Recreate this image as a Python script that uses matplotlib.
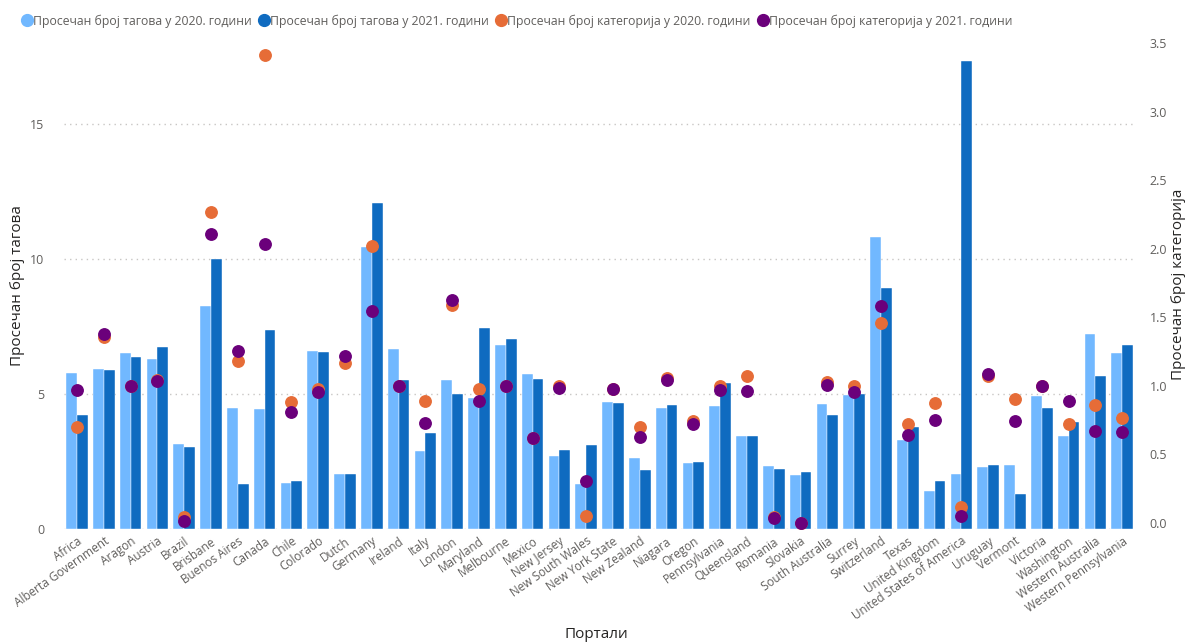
import numpy as np
import matplotlib
matplotlib.use('Agg')
import matplotlib.pyplot as plt
from matplotlib.lines import Line2D

plt.rcParams['font.family'] = ['Open Sans', 'DejaVu Sans']

# === DATA ===
portals = ["Africa", "Alberta Government", "Aragon", "Austria", "Brazil", "Brisbane",
           "Buenos Aires", "Canada", "Chile", "Colorado", "Dutch", "Germany", "Ireland",
           "Italy", "London", "Maryland", "Melbourne", "Mexico", "New Jersey",
           "New South Wales", "New York State", "New Zealand", "Niagara", "Oregon",
           "Pennsylvania", "Queensland", "Romania", "Slovakia", "South Australia",
           "Surrey", "Switzerland", "Texas", "United Kingdom", "United States of America",
           "Uruguay", "Vermont", "Victoria", "Washington", "Western Australia",
           "Western Pennsylvania"]

tags_2020 = [5.79, 5.94, 6.53, 6.28, 3.14, 8.26, 4.49, 4.43, 1.72, 6.59, 2.02, 10.46, 6.68,
             2.90, 5.51, 4.85, 6.80, 5.73, 2.70, 1.67, 4.70, 2.62, 4.49, 2.44, 4.54, 3.44,
             2.35, 2.00, 4.64, 4.95, 10.83, 3.31, 1.41, 2.05, 2.28, 2.36, 4.93, 3.46,
             7.22, 6.53]
tags_2021 = [4.21, 5.89, 6.38, 6.75, 3.02, 9.99, 1.65, 7.36, 1.78, 6.56, 2.02, 12.06, 5.52,
             3.54, 4.99, 7.43, 7.05, 5.54, 2.94, 3.12, 4.65, 2.19, 4.61, 2.49, 5.42, 3.44,
             2.24, 2.12, 4.24, 5.01, 8.91, 3.78, 1.77, 17.33, 2.37, 1.31, 4.49, 3.95,
             5.67, 6.81]
cats_2020 = [0.70, 1.352, 1.00, 1.04, 0.04, 2.27, 1.177, 3.41, 0.88, 0.975, 1.163, 2.016,
             1.00, 0.89, 1.586, 0.973, 1.00, 0.615, 0.997, 0.049, 0.973, 0.696, 1.058,
             0.744, 0.997, 1.072, 0.044, 0.00, 1.024, 1.00, 1.459, 0.72, 0.875, 0.112,
             1.07, 0.902, 1.00, 0.72, 0.856, 0.764]
cats_2021 = [0.968, 1.376, 1.00, 1.034, 0.015, 2.11, 1.255, 2.03, 0.81, 0.951, 1.218, 1.547,
             1.00, 0.73, 1.624, 0.89, 1.00, 0.615, 0.985, 0.302, 0.973, 0.623, 1.041,
             0.72, 0.968, 0.963, 0.032, 0.00, 1.007, 0.956, 1.583, 0.64, 0.751, 0.051,
             1.082, 0.744, 0.995, 0.888, 0.669, 0.664]

legend_labels = ["Просечан број тагова у 2020. години",
                 "Просечан број тагова у 2021. години",
                 "Просечан број категорија у 2020. години",
                 "Просечан број категорија у 2021. години"]

# colours
c_light = '#71B8FF'
c_dark = '#0F6BC0'
c_orange = '#E66C37'
c_purple = '#6B007B'
c_text = '#605E5C'
c_title = '#252423'

W, H = 1188, 644
fig = plt.figure(figsize=(W / 100, H / 100), dpi=100)
ax = fig.add_axes([63.6 / W, 1 - 529 / H, (1135.6 - 63.6) / W, (529 - 43) / H])
ax2 = ax.twinx()

x = np.arange(len(portals))
bw = 0.4
ax.bar(x - bw / 2, tags_2020, bw, color=c_light, edgecolor='white', linewidth=0.3, zorder=2)
ax.bar(x + bw / 2, tags_2021, bw, color=c_dark, edgecolor='white', linewidth=0.3, zorder=2)

ax2.scatter(x, cats_2020, s=68, color=c_orange, zorder=3)
ax2.scatter(x, cats_2021, s=68, color=c_purple, zorder=4)

ax.set_xlim(-0.5, len(portals) - 0.5)
ax.set_ylim(0, 18)
ax2.set_ylim(-0.046, 3.5)

ax.set_yticks([0, 5, 10, 15])
rticks = np.arange(0, 3.51, 0.5)
ax2.set_yticks(rticks)
ax2.set_yticklabels([f"{v:.1f}" for v in rticks])
ax.yaxis.grid(True, linestyle=(0, (1, 3)), color='#C8C6C4', linewidth=1)
ax.set_axisbelow(True)

for a in (ax, ax2):
    for s in a.spines.values():
        s.set_visible(False)
    a.tick_params(length=0, colors=c_text, labelsize=9)

ax.tick_params(axis='y', pad=14)
ax2.tick_params(axis='y', pad=10)
ax.set_xticks(x)
ax.set_xticklabels(portals, rotation=35, ha='right', rotation_mode='anchor',
                   fontsize=8.5, color=c_text)
ax.tick_params(axis='x', pad=4)

# axis titles
fig.text(18 / W, 1 - 286 / H, "Просечан број тагова", fontsize=11, color=c_title,
         rotation=90, ha='center', va='center')
fig.text(1179 / W, 1 - 284 / H, "Просечан број категорија", fontsize=11, color=c_title,
         rotation=90, ha='center', va='center')
fig.text(596 / W, 1 - 634 / H, "Портали", fontsize=11, color=c_title,
         ha='center', va='center')

handles = [Line2D([], [], marker='o', linestyle='', markersize=8.5, color=c)
           for c in (c_light, c_dark, c_orange, c_purple)]
fig.legend(handles, legend_labels, loc='upper left', bbox_to_anchor=(0.008, 0.995),
           ncol=4, frameon=False, fontsize=8.8, handletextpad=0.0, columnspacing=0.5,
           labelcolor=c_text, handlelength=1.0)

plt.savefig("out.png", dpi=100)
